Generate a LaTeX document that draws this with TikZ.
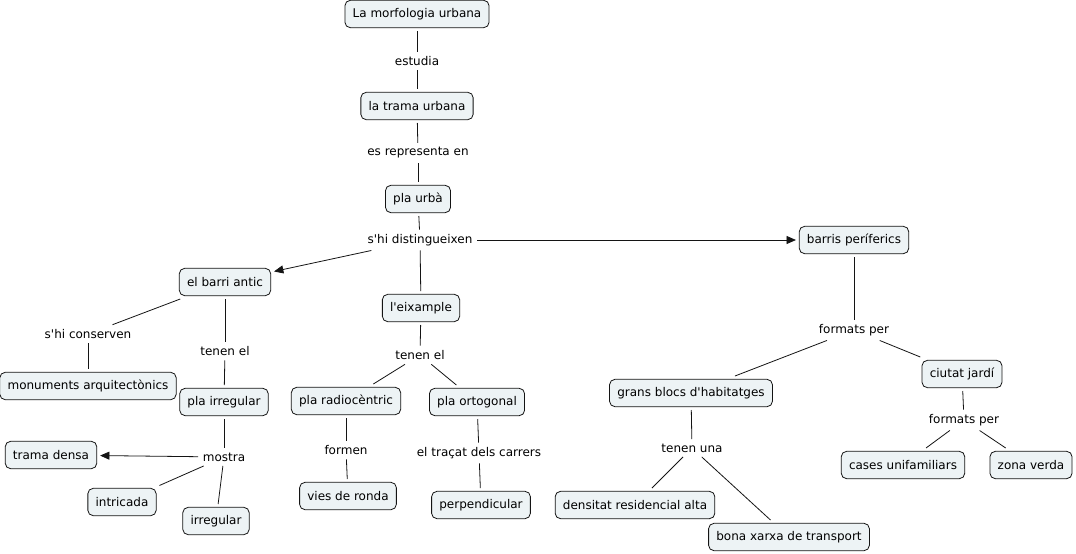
\documentclass[tikz,border=0pt]{standalone}
\usepackage{fontspec}
\setmainfont{DejaVu Sans}
\usetikzlibrary{arrows.meta}
\definecolor{cfill}{RGB}{237,243,245}
\definecolor{cline}{RGB}{20,20,20}
\newcommand{\ap}{\textquotesingle}
\begin{document}
\begin{tikzpicture}[x=0.75pt,y=-0.75pt,
  concept/.style={draw=cline,fill=cfill,rounded corners=4pt,line width=0.6pt,
    minimum height=20.5pt,inner xsep=5.8pt,inner ysep=0pt,outer sep=2.5pt,
    font=\fontsize{9}{11}\selectfont},
  lbl/.style={inner sep=1.5pt,outer sep=2pt,fill=white,font=\fontsize{9}{11}\selectfont},
  link/.style={draw=cline,line width=0.6pt},
  arr/.style={link,-{Triangle[length=7pt,width=6pt]}}]
\useasboundingbox (0,0) rectangle (1076,554);
\fill[white] (0,0) rectangle (1076,554);
% concepts
\node[concept] (c1) at (417,14) {La morfologia urbana};
\node[concept] (c2) at (417,106) {la trama urbana};
\node[concept] (c3) at (418,199) {pla urbà};
\node[concept] (c4) at (854,240) {barris períferics};
\node[concept] (c5) at (225,282) {el barri antic};
\node[concept] (c6) at (421,308) {l\ap eixample};
\node[concept] (c7) at (88,386) {monuments arquitectònics};
\node[concept] (c8) at (224,402) {pla irregular};
\node[concept] (c9) at (346,401) {pla radiocèntric};
\node[concept] (c10) at (477,402) {pla ortogonal};
\node[concept] (c11) at (691,393) {grans blocs d\ap habitatges};
\node[concept] (c12) at (962,374) {ciutat jardí};
\node[concept] (c13) at (51,455) {trama densa};
\node[concept] (c14) at (122,502) {intricada};
\node[concept] (c15) at (216,521) {irregular};
\node[concept] (c16) at (348,496) {vies de ronda};
\node[concept] (c17) at (481,505) {perpendicular};
\node[concept] (c18) at (635,505) {densitat residencial alta};
\node[concept] (c19) at (789,537) {bona xarxa de transport};
\node[concept] (c20) at (903,465) {cases unifamiliars};
\node[concept] (c21) at (1031,465) {zona verda};
% labels
\node[lbl] (l1) at (417,61) {estudia};
\node[lbl] (l2) at (418,153) {es representa en};
\node[lbl] (l3) at (420,240) {s\ap hi distingueixen};
\node[lbl] (l4) at (88,334) {s\ap hi conserven};
\node[lbl] (l5) at (225,351) {tenen el};
\node[lbl] (l6) at (420,355) {tenen el};
\node[lbl] (l7) at (854,330) {formats per};
\node[lbl] (l8) at (224,457) {mostra};
\node[lbl] (l9) at (346,450) {formen};
\node[lbl] (l10) at (479,453) {el traçat dels carrers};
\node[lbl] (l11) at (692,448) {tenen una};
\node[lbl] (l12) at (964,420) {formats per};
% links
\draw[link] (c1) -- (l1);
\draw[link] (l1) -- (c2);
\draw[link] (c2) -- (l2);
\draw[link] (l2) -- (c3);
\draw[link] (c3) -- (l3);
\draw[arr] (l3) -- (c4);
\draw[arr] (l3) -- (c5);
\draw[link] (l3) -- (c6);
\draw[link] (c5) -- (l4);
\draw[link] (l4) -- (c7);
\draw[link] (c5) -- (l5);
\draw[link] (l5) -- (c8);
\draw[link] (c6) -- (l6);
\draw[link] (l6) -- (c9);
\draw[link] (l6) -- (c10);
\draw[link] (c4) -- (l7);
\draw[link] (l7) -- (c11);
\draw[link] (l7) -- (c12);
\draw[link] (c8) -- (l8);
\draw[arr] (l8) -- (c13);
\draw[link] (l8) -- (c14);
\draw[link] (l8) -- (c15);
\draw[link] (c9) -- (l9);
\draw[link] (l9) -- (c16);
\draw[link] (c10) -- (l10);
\draw[link] (l10) -- (c17);
\draw[link] (c11) -- (l11);
\draw[link] (l11) -- (c18);
\draw[link] (l11) -- (c19);
\draw[link] (c12) -- (l12);
\draw[link] (l12) -- (c20);
\draw[link] (l12) -- (c21);
\end{tikzpicture}
\end{document}
